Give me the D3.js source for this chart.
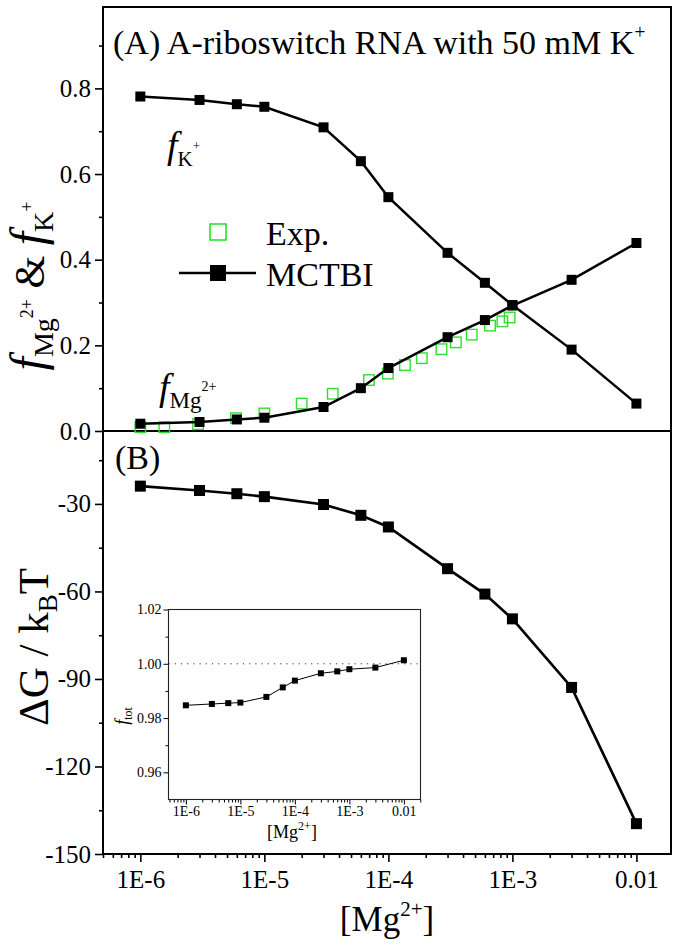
<!DOCTYPE html>
<html><head><meta charset="utf-8">
<script src="https://cdn.jsdelivr.net/npm/d3@7"></script>
<style>
body{margin:0;background:#fff;}
text{font-family:"Liberation Serif","Times New Roman",serif;fill:#000;}
</style>
</head><body>
<svg id="c" width="680" height="947"></svg>
<script>
// ---- data ----
const mgConc = [1e-6,3e-6,6e-6,1e-5,3e-5,6e-5,1e-4,3e-4,6e-4,1e-3,3e-3,1e-2];
const fK  = [0.781,0.773,0.763,0.757,0.709,0.630,0.546,0.416,0.346,0.294,0.190,0.064];
const fMg = [0.017,0.021,0.027,0.031,0.056,0.100,0.147,0.219,0.259,0.293,0.353,0.439];
const expMg = [1.0e-6,1.56e-6,2.92e-6,5.9e-6,1.0e-5,2.0e-5,3.56e-5,6.97e-5,9.9e-5,1.36e-4,1.86e-4,2.68e-4,3.5e-4,4.7e-4,6.6e-4,8.3e-4,9.5e-4];
const expF  = [0.009,0.009,0.016,0.030,0.041,0.064,0.087,0.119,0.134,0.154,0.170,0.191,0.207,0.225,0.246,0.256,0.265];
const dG   = [-23.9,-25.4,-26.5,-27.5,-30.2,-33.9,-37.9,-52.2,-60.9,-69.4,-92.9,-139.6];
const fTot = [0.9847,0.9852,0.9855,0.9857,0.9878,0.9913,0.9938,0.9965,0.9972,0.9980,0.9986,1.0013];
const xTickVals = [1e-6,1e-5,1e-4,1e-3,1e-2];
const xTickLabels = ["1E-6","1E-5","1E-4","1E-3","0.01"];
const topYTicks = [0,0.2,0.4,0.6,0.8];
const topYMinor = [0.1,0.3,0.5,0.7,0.9];
const botYTicks = [-150,-120,-90,-60,-30];
const botYMinor = [-135,-105,-75,-45,-15];
const insetYTicks = [0.96,0.98,1.00,1.02];
const insetYMinor = [0.97,0.99,1.01];

const svg = d3.select("#c");
const L=103,R=671,T=7,MID=431,B=854;
const x = d3.scaleLog().domain([5e-7,0.019]).range([L,R]);
const yTop = d3.scaleLinear().domain([0,0.99]).range([MID,T]);
const yBot = d3.scaleLinear().domain([-150,-5]).range([B,MID]);
const xIn = d3.scaleLog().domain([4.8e-7,0.0202]).range([168.5,420.5]);
const yIn = d3.scaleLinear().domain([0.95,1.02]).range([799.5,609.5]);

function minorLog(sc){
  const out=[]; const [a,b]=sc.domain();
  for(let e=-8;e<=0;e++) for(let k=2;k<=9;k++){const v=k*Math.pow(10,e); if(v>=a&&v<=b) out.push(v);}
  return out;
}
function styleAxis(g,fs){
  g.select(".domain").remove();
  g.selectAll(".tick line").attr("stroke","#000").attr("stroke-width",1.6);
  g.selectAll(".tick text").style("font-family",'"Liberation Serif","Times New Roman",serif').style("font-size",fs+"px").attr("fill","#000");
}

// ---- main axes ----
let g;
g = svg.append("g").attr("transform",`translate(${L},0)`).call(d3.axisLeft(yTop).tickValues(topYTicks).tickFormat(d3.format(".1f")).tickSize(8).tickPadding(4)); styleAxis(g,25);
g = svg.append("g").attr("transform",`translate(${L},0)`).call(d3.axisLeft(yTop).tickValues(topYMinor).tickFormat("").tickSize(4)); styleAxis(g,25);
g = svg.append("g").attr("transform",`translate(${L},0)`).call(d3.axisLeft(yBot).tickValues(botYTicks).tickFormat(d3.format("d")).tickSize(8).tickPadding(4)); styleAxis(g,25);
g.selectAll(".tick text").text(d=>String(d).replace("−","-"));
g = svg.append("g").attr("transform",`translate(${L},0)`).call(d3.axisLeft(yBot).tickValues(botYMinor).tickFormat("").tickSize(4)); styleAxis(g,25);
g = svg.append("g").attr("transform",`translate(0,${B})`).call(d3.axisBottom(x).tickValues(xTickVals).tickFormat((d,i)=>xTickLabels[i]).tickSize(8).tickPadding(8)); styleAxis(g,25);
g = svg.append("g").attr("transform",`translate(0,${B})`).call(d3.axisBottom(x).tickValues(minorLog(x)).tickFormat("").tickSize(4)); styleAxis(g,25);

// frame
svg.append("rect").attr("x",L).attr("y",T).attr("width",R-L).attr("height",B-T).attr("fill","none").attr("stroke","#000").attr("stroke-width",2);
svg.append("line").attr("x1",L).attr("x2",R).attr("y1",MID).attr("y2",MID).attr("stroke","#000").attr("stroke-width",2);

// ---- top panel data ----
const sq = (sel, data, xs, ys, s, fill, stroke, sw) => sel.selectAll(null).data(data).enter().append("rect")
  .attr("x",d=>xs(d[0])-s/2).attr("y",d=>ys(d[1])-s/2).attr("width",s).attr("height",s)
  .attr("fill",fill).attr("stroke",stroke).attr("stroke-width",sw);

sq(svg.append("g"), expMg.map((v,i)=>[v,expF[i]]), x, yTop, 10.5, "none", "#2ee02e", 1.4);

const lineTop = d3.line().x(d=>x(d[0])).y(d=>yTop(d[1]));
const kData = mgConc.map((v,i)=>[v,fK[i]]);
const mData = mgConc.map((v,i)=>[v,fMg[i]]);
svg.append("path").attr("d",lineTop(kData)).attr("fill","none").attr("stroke","#000").attr("stroke-width",2.5);
svg.append("path").attr("d",lineTop(mData)).attr("fill","none").attr("stroke","#000").attr("stroke-width",2.5);
sq(svg.append("g"), kData, x, yTop, 10, "#000", "none", 0);
sq(svg.append("g"), mData, x, yTop, 10, "#000", "none", 0);

// ---- bottom panel data ----
const gData = mgConc.map((v,i)=>[v,dG[i]]);
svg.append("path").attr("d",d3.line().x(d=>x(d[0])).y(d=>yBot(d[1]))(gData)).attr("fill","none").attr("stroke","#000").attr("stroke-width",2.7);
sq(svg.append("g"), gData, x, yBot, 11, "#000", "none", 0);

// ---- inset ----
const ins = svg.append("g");
ins.append("line").attr("x1",168.5).attr("x2",420.5).attr("y1",yIn(1.0)).attr("y2",yIn(1.0)).attr("stroke","#333").attr("stroke-width",1).attr("stroke-dasharray","1.2,5");
g = ins.append("g").attr("transform","translate(168.5,0)").call(d3.axisLeft(yIn).tickValues(insetYTicks).tickFormat(d3.format(".2f")).tickSize(5).tickPadding(2)); styleAxis(g,14);
g.selectAll(".tick line").attr("stroke-width",1);
g = ins.append("g").attr("transform","translate(168.5,0)").call(d3.axisLeft(yIn).tickValues(insetYMinor).tickFormat("").tickSize(3)); styleAxis(g,14);
g.selectAll(".tick line").attr("stroke-width",1);
g = ins.append("g").attr("transform","translate(0,799.5)").call(d3.axisBottom(xIn).tickValues(xTickVals).tickFormat((d,i)=>xTickLabels[i]).tickSize(5).tickPadding(2)); styleAxis(g,14);
g.selectAll(".tick line").attr("stroke-width",1);
g = ins.append("g").attr("transform","translate(0,799.5)").call(d3.axisBottom(xIn).tickValues(minorLog(xIn)).tickFormat("").tickSize(3)); styleAxis(g,14);
g.selectAll(".tick line").attr("stroke-width",1);
ins.append("rect").attr("x",168.5).attr("y",609.5).attr("width",252).attr("height",190).attr("fill","none").attr("stroke","#222").attr("stroke-width",1.1);
const tData = mgConc.map((v,i)=>[v,fTot[i]]);
ins.append("path").attr("d",d3.line().x(d=>xIn(d[0])).y(d=>yIn(d[1]))(tData)).attr("fill","none").attr("stroke","#000").attr("stroke-width",1);
sq(ins.append("g"), tData, xIn, yIn, 6, "#000", "none", 0);

// inset titles
let t = ins.append("text").attr("x",292).attr("y",838).attr("text-anchor","middle").style("font-size","18px");
t.append("tspan").text("[Mg");
t.append("tspan").attr("dy",-8).style("font-size","12px").text("2+");
t.append("tspan").attr("dy",8).text("]");
t = ins.append("text").attr("transform","translate(128,716) rotate(-90)").attr("text-anchor","middle").style("font-size","18px");
t.append("tspan").style("font-style","italic").text("f");
t.append("tspan").attr("dy",4).style("font-size","12px").text("tot");

// ---- annotations ----
t = svg.append("text").attr("x",113).attr("y",54).style("font-size","34px");
t.append("tspan").text("(A) A-riboswitch RNA with 50 mM K");
t.append("tspan").attr("dy",-15).style("font-size","20px").text("+");
svg.append("text").attr("x",115).attr("y",469).style("font-size","34px").text("(B)");

t = svg.append("text").attr("x",167).attr("y",158).style("font-size","38px");
t.append("tspan").style("font-style","italic").text("f");
t.append("tspan").attr("dy",8).style("font-size","21px").text("K");
t.append("tspan").attr("dy",-16).style("font-size","13px").text("+");

t = svg.append("text").attr("x",159).attr("y",400).style("font-size","38px");
t.append("tspan").style("font-style","italic").text("f");
t.append("tspan").attr("dy",8).style("font-size","23px").text("Mg");
t.append("tspan").attr("dy",-17).style("font-size","14px").text("2+");

// legend
svg.append("rect").attr("x",210).attr("y",224).attr("width",16).attr("height",16).attr("fill","none").attr("stroke","#2ee02e").attr("stroke-width",1.6);
svg.append("text").attr("x",266).attr("y",245).style("font-size","34px").text("Exp.");
svg.append("line").attr("x1",179).attr("x2",256).attr("y1",273).attr("y2",273).attr("stroke","#000").attr("stroke-width",2.5);
svg.append("rect").attr("x",210).attr("y",265).attr("width",16).attr("height",16).attr("fill","#000");
svg.append("text").attr("x",266).attr("y",286).style("font-size","34px").text("MCTBI");

// axis titles
t = svg.append("text").attr("x",387).attr("y",931).attr("text-anchor","middle").style("font-size","35px");
t.append("tspan").text("[Mg");
t.append("tspan").attr("dy",-15).style("font-size","21px").text("2+");
t.append("tspan").attr("dy",15).text("]");

t = svg.append("text").attr("transform","translate(44,286) rotate(-90)").attr("text-anchor","middle").style("font-size","42px");
t.append("tspan").style("font-style","italic").style("font-size","48px").text("f");
t.append("tspan").attr("dy",9).style("font-size","28px").text("Mg");
t.append("tspan").attr("dy",-20).style("font-size","18px").text("2+");
t.append("tspan").attr("dy",11).text(" & ");
t.append("tspan").style("font-style","italic").style("font-size","48px").text("f");
t.append("tspan").attr("dy",9).style("font-size","28px").text("K");
t.append("tspan").attr("dy",-20).style("font-size","18px").text("+");

t = svg.append("text").attr("transform","translate(48,647) rotate(-90)").attr("text-anchor","middle").style("font-size","43px");
t.append("tspan").text("ΔG / k");
t.append("tspan").attr("dy",9).style("font-size","27px").text("B");
t.append("tspan").attr("dy",-9).text("T");
</script>
</body></html>
